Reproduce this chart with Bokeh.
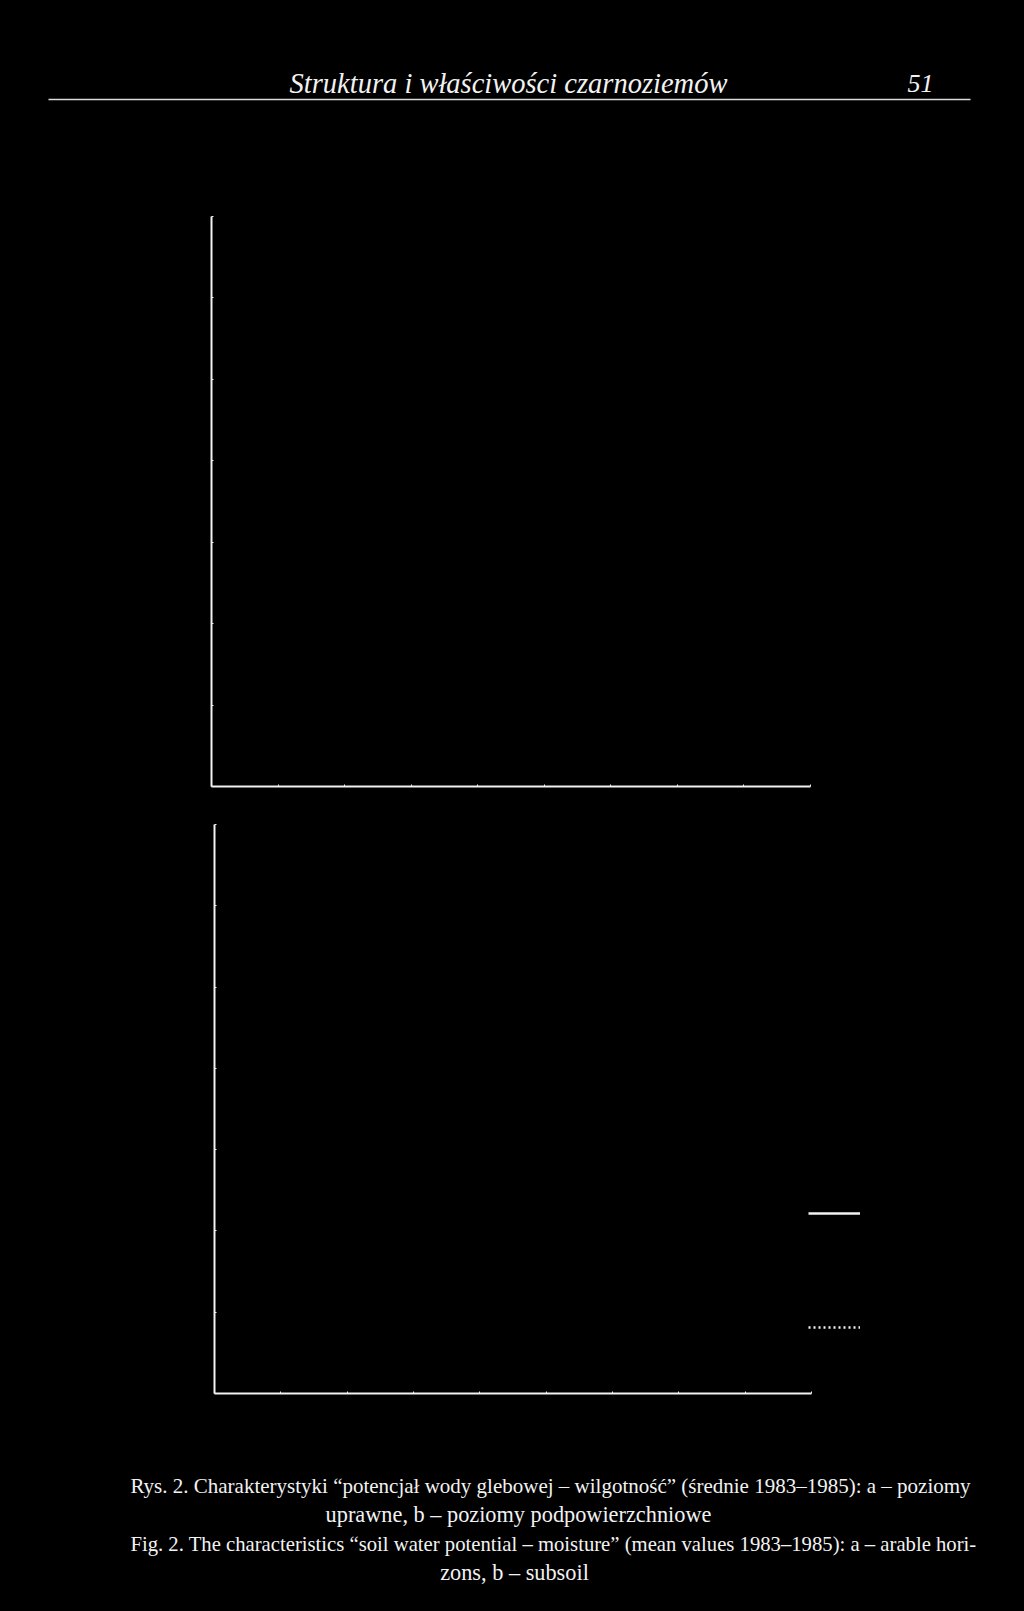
from bokeh.plotting import figure
from bokeh.layouts import column
from bokeh.models import Range1d, FixedTicker, Legend, LegendItem, Label
from bokeh.core.properties import value
from bokeh.embed import file_html
from bokeh.resources import INLINE

# ---------------- data (only axes and legend samples are legible in the scan) ----------
header_title = "Struktura i właściwości czarnoziemów"
page_number = "51"
caption_lines = [
    "Rys. 2. Charakterystyki \u201cpotencjał wody glebowej \u2013 wilgotność\u201d (średnie 1983\u20131985): a \u2013 poziomy",
    "uprawne, b \u2013 poziomy podpowierzchniowe",
    "Fig. 2. The characteristics \u201csoil water potential \u2013 moisture\u201d (mean values 1983\u20131985): a \u2013 arable hori-",
    "zons, b \u2013 subsoil",
]
x_ticks = [0, 5, 10, 15, 20, 25, 30, 35, 40, 45]
y_ticks = [0, 1, 2, 3, 4, 5, 6, 7]
# the curves themselves are not legible in the scan: placeholders (NaN = nothing drawn),
# only the legend samples (solid / dotted) remain visible
series_solid_moisture = [float("nan")]
series_solid_potential = [float("nan")]
series_dotted_moisture = [float("nan")]
series_dotted_potential = [float("nan")]

BG = "#000000"
FG = "#f2f2f2"
W = 1024


def no_align(p):
    if "frame_align" in p.properties():
        p.frame_align = False
    return p


def blank(height):
    p = figure(width=W, height=height, output_backend="svg", toolbar_location=None,
               x_range=Range1d(0, W), y_range=Range1d(0, height),
               min_border=0, min_border_left=0, min_border_right=0,
               min_border_top=0, min_border_bottom=0)
    p.axis.visible = False
    p.grid.visible = False
    p.outline_line_color = None
    p.background_fill_color = BG
    p.border_fill_color = BG
    return no_align(p)


# ---------------- header -------------------------------------------------------------
hdr = blank(150)
hdr.add_layout(Label(x=508, y=67, text=header_title, text_align="center",
                     text_baseline="alphabetic", text_font="Liberation Serif",
                     text_font_style="italic", text_font_size="28.5px", text_color=FG))
hdr.add_layout(Label(x=907, y=67, text=page_number, text_align="left",
                     text_baseline="alphabetic", text_font="Liberation Serif",
                     text_font_style="italic", text_font_size="26px", text_color=FG))
hdr.segment(x0=[48], y0=[51], x1=[970], y1=[51], line_color="#dcdcdc", line_width=1.5)


# ---------------- panels -------------------------------------------------------------
def panel(height, left, right, top, bottom, x_end):
    p = figure(width=W, height=height, output_backend="svg", toolbar_location=None,
               x_range=Range1d(x_ticks[0], x_end),
               y_range=Range1d(y_ticks[0], y_ticks[-1]),
               min_border_left=left, min_border_right=right,
               min_border_top=top, min_border_bottom=bottom)
    p.background_fill_color = BG
    p.border_fill_color = BG
    p.outline_line_color = None
    p.grid.visible = False
    p.xaxis.ticker = FixedTicker(ticks=x_ticks)
    p.yaxis.ticker = FixedTicker(ticks=y_ticks)
    p.xaxis.bounds = (x_ticks[0], x_ticks[-1])
    p.xaxis.major_label_overrides = {t: "" for t in x_ticks}
    p.yaxis.major_label_overrides = {t: "" for t in y_ticks}
    for ax in (p.xaxis, p.yaxis):
        ax.axis_line_color = FG
        ax.axis_line_width = 2
        ax.major_tick_line_color = FG
        ax.major_tick_in = 2
        ax.major_tick_out = 0
        ax.minor_tick_line_color = None
        ax.major_label_standoff = 0
    return no_align(p)


# panel a: frame 211..810 (axis length 599 px)
pa = panel(660, 211, 214, 66, 24, x_ticks[-1])
pa.line(series_solid_moisture, series_solid_potential, line_color=FG, line_width=2)

# panel b: axis 214..811 (597 px); frame widened to 880 to hold the legend samples
pb = panel(600, 214, 144, 14, 17, x_ticks[-1] * 666 / 597)
r_solid = pb.line(series_solid_moisture, series_solid_potential, line_color=FG, line_width=2.4)
r_dot = pb.line(series_dotted_moisture, series_dotted_potential, line_color=FG,
                line_width=2.6, line_dash="2 3")
legend = Legend(items=[LegendItem(label=value("\u00a0"), renderers=[r_solid]),
                       LegendItem(label=value("\u00a0"), renderers=[r_dot])],
                location=(594, 63), orientation="vertical",
                glyph_width=52, glyph_height=6, label_height=6, label_width=0,
                label_standoff=0, label_text_font_size="1px", spacing=108,
                padding=0, margin=0, border_line_color=None,
                background_fill_alpha=0, label_text_color=BG)
pb.add_layout(legend)

# ---------------- caption ------------------------------------------------------------
cap = blank(201)
cap_x = [550, 518, 553, 514]
cap_y = [126, 97, 68, 39]
cap_size = ["21px", "22.3px", "20.7px", "22.3px"]
for t, cx, cy, fs in zip(caption_lines, cap_x, cap_y, cap_size):
    cap.add_layout(Label(x=cx, y=cy, text=t, text_align="center",
                         text_baseline="alphabetic", text_font="Liberation Serif",
                         text_font_size=fs, text_color=FG))

page = column(hdr, pa, pb, cap, spacing=0)
page.background = BG

tpl = """{% block postamble %}<style>html, body { margin: 0 !important; padding: 0 !important; background-color: #000000; overflow: hidden; }</style>{% endblock %}"""
open("out.html", "w").write(file_html(page, INLINE, template=tpl))
